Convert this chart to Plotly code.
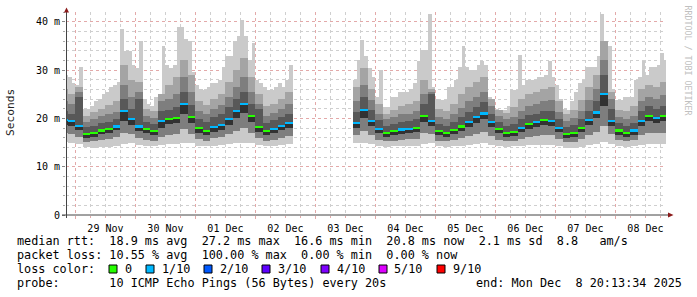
import plotly.graph_objects as go
from datetime import datetime, timedelta

# ---------------- data ----------------
START = "2025-11-28 18:00"
STEP_HOURS = 3          # smoke layers / median
FINE_STEP_HOURS = 1.5   # outer envelope (max ping)
GAP = [None] * 8        # no data 02 Dec 15:00 .. 03 Dec 15:00
GAP_FINE = [None] * 16

median = [19.7, 19.5, 18.5, 16.8, 17.0, 17.5, 17.8, 18.3, 21.5, 19.8,
          18.3, 17.8, 17.3, 19.5, 19.8, 20.0, 23.0, 20.3, 18.0, 17.4,
          18.2, 18.6, 19.8, 21.5, 23.0, 20.5, 18.2, 17.3, 17.8, 18.5, 19.0] + GAP + \
         [19.0, 21.8, 19.5, 17.8, 17.0, 17.3, 17.7, 17.8, 18.0, 20.5,
          19.5, 17.3, 17.0, 17.6, 18.3, 19.3, 20.2, 21.0, 19.3, 17.8,
          17.0, 17.2, 18.0, 18.8, 19.2, 19.6, 19.5, 18.0, 16.8, 17.0,
          18.0, 19.6, 21.2, 25.0, 19.5, 17.5, 17.0, 17.5, 19.5, 20.5, 20.0, 20.5]

rtt_min = [15.2, 15.0, 14.6, 14.0, 13.9, 14.0, 14.1, 14.2, 14.6, 14.8,
           14.5, 14.3, 14.2, 14.4, 14.6, 14.7, 15.0, 14.8, 14.3, 14.2,
           14.3, 14.4, 14.6, 14.8, 15.0, 14.8, 14.4, 14.2, 14.3, 14.4, 14.6] + GAP + \
          [14.9, 15.0, 14.6, 14.3, 14.1, 14.2, 14.2, 14.3, 14.3, 14.6,
           14.8, 14.2, 14.1, 14.2, 14.3, 14.5, 14.6, 14.8, 14.5, 14.2,
           14.1, 14.2, 14.3, 14.4, 14.5, 14.5, 14.5, 14.2, 13.9, 13.9,
           14.1, 14.4, 14.7, 15.2, 14.7, 14.2, 14.1, 14.2, 14.5, 14.6, 14.6, 14.6]

rtt_low_mid = [17.0, 16.8, 16.2, 15.2, 15.3, 15.6, 15.8, 16.2, 17.0, 16.8,
               16.0, 15.6, 15.4, 16.2, 16.6, 16.8, 17.8, 16.8, 15.8, 15.4,
               15.9, 16.2, 16.8, 17.4, 18.0, 17.0, 15.9, 15.4, 15.6, 16.0, 16.4] + GAP + \
              [16.6, 17.3, 16.6, 15.6, 15.3, 15.4, 15.6, 15.7, 15.8, 17.0,
               16.8, 15.4, 15.3, 15.6, 15.9, 16.4, 16.8, 17.2, 16.4, 15.6,
               15.3, 15.4, 15.8, 16.2, 16.4, 16.6, 16.6, 15.8, 15.1, 15.2,
               15.7, 16.5, 17.2, 18.5, 16.8, 15.5, 15.3, 15.5, 16.6, 17.0, 16.9, 17.0]

rtt_low_in = [18.6, 18.5, 17.6, 16.0, 16.2, 16.7, 17.0, 17.5, 19.5, 18.7,
              17.3, 16.9, 16.5, 18.0, 18.8, 19.0, 21.0, 19.0, 17.0, 16.5,
              17.2, 17.6, 18.7, 20.0, 21.2, 19.3, 17.2, 16.5, 16.9, 17.5, 18.0] + GAP + \
             [18.1, 20.0, 18.4, 16.9, 16.2, 16.5, 16.8, 16.9, 17.1, 19.3,
              18.4, 16.5, 16.2, 16.7, 17.3, 18.2, 19.0, 19.8, 18.2, 16.9,
              16.2, 16.4, 17.1, 17.8, 18.2, 18.6, 18.5, 17.1, 16.0, 16.2,
              17.1, 18.6, 20.0, 22.5, 18.5, 16.6, 16.2, 16.6, 18.5, 19.4, 19.0, 19.4]

rtt_high_in = [21.5, 21.0, 24.5, 18.2, 18.5, 19.0, 19.3, 19.8, 24.0, 22.0,
               24.0, 19.3, 18.8, 21.5, 21.8, 22.3, 25.5, 22.8, 19.8, 19.2,
               20.2, 20.8, 22.3, 24.0, 25.5, 23.0, 22.0, 19.0, 19.6, 20.3, 21.0] + GAP + \
              [21.3, 24.5, 21.8, 19.6, 18.5, 18.8, 19.3, 19.4, 19.8, 23.0,
               25.0, 18.8, 18.5, 19.2, 20.2, 21.3, 22.3, 23.3, 21.0, 19.3,
               18.5, 18.8, 19.8, 20.6, 21.0, 21.5, 21.5, 19.8, 18.3, 18.6,
               19.8, 21.6, 23.5, 29.0, 22.0, 19.0, 18.5, 19.0, 21.5, 22.5, 22.0, 22.5]

rtt_high_mid = [23.5, 23.0, 25.5, 19.3, 19.8, 20.5, 20.8, 21.3, 27.0, 24.5,
                25.5, 20.5, 20.0, 23.5, 24.0, 25.0, 28.5, 25.5, 21.5, 20.8,
                22.0, 22.8, 24.5, 26.5, 28.5, 25.5, 23.0, 20.5, 21.2, 22.0, 23.0] + GAP + \
               [23.5, 27.0, 23.8, 21.0, 19.8, 20.2, 20.8, 21.0, 21.5, 25.0,
                25.5, 20.2, 19.8, 20.8, 22.2, 23.5, 24.5, 25.5, 22.5, 20.5,
                19.8, 20.3, 21.5, 22.5, 23.0, 23.5, 23.8, 21.3, 19.5, 20.0,
                21.5, 23.8, 26.0, 32.0, 24.0, 20.3, 19.8, 20.5, 23.5, 24.5, 24.0, 24.8]

rtt_high_out = [26.0, 25.0, 26.5, 20.5, 21.3, 22.0, 22.8, 23.5, 31.0, 28.0,
                27.5, 22.0, 21.5, 25.0, 27.0, 28.5, 32.0, 29.0, 23.5, 22.8,
                24.0, 25.0, 27.5, 30.0, 32.5, 28.5, 25.0, 22.5, 23.0, 24.0, 25.5] + GAP + \
               [26.5, 30.5, 26.0, 23.0, 21.0, 21.8, 22.5, 23.0, 23.5, 28.0,
                26.0, 22.0, 21.5, 23.0, 25.0, 26.5, 27.5, 28.5, 24.0, 21.8,
                21.2, 22.3, 24.0, 25.0, 25.5, 26.0, 26.5, 23.5, 20.8, 21.8,
                23.8, 26.5, 29.0, 36.0, 25.5, 21.8, 21.5, 22.5, 26.0, 27.0, 26.5, 27.5]

# outer envelope at 1.5 h resolution
rtt_max = [29.0, 29.0, 28.5, 27.3, 27.0, 30.7, 22.0, 22.0, 22.5, 23.5,
           24.0, 25.0, 25.5, 26.5, 27.0, 27.5, 38.5, 34.0, 34.0, 31.0,
           30.5, 36.0, 24.0, 23.0, 22.5, 24.5, 25.0, 35.0, 31.0, 30.5,
           31.0, 39.0, 39.0, 36.5, 36.0, 29.6, 27.0, 26.0, 25.9, 26.5,
           27.3, 27.3, 28.0, 30.7, 32.8, 32.8, 36.0, 37.0, 40.4, 37.0,
           32.0, 35.6, 28.0, 27.3, 26.5, 25.9, 25.9, 26.5, 27.3, 26.5,
           28.0, 31.0] + GAP_FINE + \
          [28.0, 32.0, 36.3, 32.8, 30.5, 28.6, 24.5, 30.0, 22.4, 22.4,
           24.5, 24.5, 25.5, 25.5, 25.5, 26.0, 27.3, 31.8, 34.2, 34.2,
           41.5, 26.5, 24.0, 23.8, 23.8, 26.5, 26.5, 28.0, 30.7, 34.9,
           30.7, 30.0, 30.0, 31.0, 31.8, 31.0, 24.5, 23.8, 22.0, 21.8,
           21.8, 22.5, 25.9, 25.9, 33.2, 27.0, 28.0, 28.0, 28.0, 28.6,
           28.6, 29.0, 31.8, 28.6, 27.0, 24.0, 22.0, 21.8, 23.5, 25.5,
           27.3, 28.0, 30.6, 30.7, 30.7, 33.0, 41.5, 35.0, 35.0, 26.0,
           23.8, 23.8, 24.5, 24.5, 24.5, 28.0, 28.6, 31.8, 29.0, 30.7,
           30.7, 31.0, 33.5, 32.0]

loss = [1, 1, 1, 0, 0, 0, 0, 1, 1, 1,
        1, 0, 0, 1, 0, 0, 1, 0, 0, 0,
        1, 1, 1, 1, 1, 0, 0, 0, 1, 1, 1] + GAP + \
       [1, 1, 1, 1, 0, 0, 1, 1, 0, 0,
        1, 0, 0, 0, 0, 1, 1, 1, 1, 0,
        0, 0, 1, 0, 1, 0, 1, 1, 0, 0,
        0, 1, 1, 1, 1, 0, 0, 1, 1, 0, 1, 0]

day_ticks = ["2025-11-29 12:00", "2025-11-30 12:00", "2025-12-01 12:00", "2025-12-02 12:00",
             "2025-12-03 12:00", "2025-12-04 12:00", "2025-12-05 12:00", "2025-12-06 12:00",
             "2025-12-07 12:00", "2025-12-08 12:00"]
day_labels = ["29 Nov", "30 Nov", "01 Dec", "02 Dec", "03 Dec",
              "04 Dec", "05 Dec", "06 Dec", "07 Dec", "08 Dec"]
y_ticks = [0, 10, 20, 30, 40]
y_labels = ["0", "10 m", "20 m", "30 m", "40 m"]

loss_labels = ["0", "1/10", "2/10", "3/10", "4/10", "5/10", "9/10"]
loss_colors = ["#26ff00", "#00b8ff", "#0059ff", "#5e00ff", "#7e00ff", "#dd00ff", "#ff0000"]

line_rtt = "median rtt:  18.9 ms avg  27.2 ms max  16.6 ms min  20.8 ms now  2.1 ms sd  8.8   am/s"
line_loss = "packet loss: 10.55 % avg  100.00 % max  0.00 % min  0.00 % now"
line_color = "loss color:"
line_probe = "probe:       10 ICMP Echo Pings (56 Bytes) every 20s"
line_end = "end: Mon Dec  8 20:13:34 2025"
watermark = "RRDTOOL / TOBI OETIKER"
y_title = "Seconds"

X_RANGE = ["2025-11-28 20:13:34", "2025-12-08 20:13:34"]
Y_RANGE = [0, 42]

# ---------------- figure ----------------
W, H = 697, 297
PL, PR, PT, PB = 66, 31, 12, 82
PW, PH = W - PL - PR, H - PT - PB
MONO = "DejaVu Sans Mono"


def px(x):
    return (x - PL) / PW


def py(y):
    return (H - PB - y) / PH


t0 = datetime.strptime(START, "%Y-%m-%d %H:%M")
times = [t0 + timedelta(hours=STEP_HOURS * i) for i in range(len(median))]
times_fine = [t0 + timedelta(hours=FINE_STEP_HOURS * i) for i in range(len(rtt_max))]
STEP_MS = STEP_HOURS * 3600 * 1000
FINE_MS = FINE_STEP_HOURS * 3600 * 1000
RATIO = int(STEP_HOURS / FINE_STEP_HOURS)

fig = go.Figure()


def band(x, lo, hi, color, width):
    base = [l if (l is not None and h is not None) else None for l, h in zip(lo, hi)]
    ht = [(h - l) if (l is not None and h is not None) else None for l, h in zip(lo, hi)]
    fig.add_trace(go.Bar(x=x, y=ht, base=base, width=width, offset=0,
                         marker=dict(color=color, line=dict(width=0)),
                         hoverinfo="skip", showlegend=False))


# lightest smoke: min .. max (bottom part on the coarse grid, top envelope on the fine grid)
band(times, rtt_min, rtt_low_mid, "#cacaca", STEP_MS)
band(times_fine, [rtt_low_mid[i // RATIO] for i in range(len(rtt_max))], rtt_max, "#cacaca", FINE_MS)
band(times, rtt_low_mid, rtt_high_out, "#a4a4a4", STEP_MS)
band(times, rtt_low_mid, rtt_high_mid, "#7e7e7e", STEP_MS)
band(times, rtt_low_in, rtt_high_in, "#585858", STEP_MS)
band(times, rtt_low_in, median, "#323232", STEP_MS)

MED_H = 0.45
fig.add_trace(go.Bar(
    x=times,
    y=[MED_H if m is not None else None for m in median],
    base=[m - MED_H / 2 if m is not None else None for m in median],
    width=STEP_MS, offset=0,
    marker=dict(color=[loss_colors[l] if l is not None else "#ffffff" for l in loss],
                line=dict(width=0)),
    hoverinfo="skip", showlegend=False))

grid_gray = "#cfcfcf"
grid_red = "#e3a9a9"

fig.update_layout(
    width=W, height=H,
    margin=dict(l=PL, r=PR, t=PT, b=PB),
    paper_bgcolor="white", plot_bgcolor="white",
    barmode="overlay", bargap=0,
    showlegend=False,
    font=dict(family=MONO, size=10, color="#000000"),
    xaxis=dict(type="date", range=X_RANGE, tickmode="linear",
               tick0="2025-11-29 00:00", dtick=86400000,
               showgrid=True, gridcolor=grid_red, griddash="dot", gridwidth=1,
               showticklabels=False, ticks="outside", ticklen=3, tickcolor=grid_red,
               zeroline=False, showline=False,
               minor=dict(tickmode="linear", tick0="2025-11-29 00:00", dtick=6 * 3600000,
                          showgrid=True, gridcolor=grid_gray, griddash="dot", gridwidth=1,
                          ticks="outside", ticklen=2, tickcolor=grid_red)),
    xaxis2=dict(type="date", range=X_RANGE, overlaying="x", anchor="y", side="bottom",
                tickmode="array", tickvals=day_ticks, ticktext=day_labels,
                showgrid=False, zeroline=False, showline=False,
                ticks="outside", ticklen=4, tickcolor="rgba(0,0,0,0)",
                tickfont=dict(family=MONO, size=10, color="#000000")),
    yaxis=dict(range=Y_RANGE, tickmode="array", tickvals=y_ticks, ticktext=y_labels,
               showgrid=True, gridcolor=grid_red, griddash="dot", gridwidth=1,
               zeroline=False, showline=False,
               ticks="outside", ticklen=3, tickcolor="#888888",
               tickfont=dict(family=MONO, size=10, color="#000000"),
               minor=dict(tickmode="linear", tick0=0, dtick=2, showgrid=True,
                          gridcolor=grid_gray, griddash="dot", gridwidth=1,
                          ticks="outside", ticklen=2, tickcolor="#aaaaaa")),
)

# invisible trace to activate the label axis xaxis2
fig.add_trace(go.Scatter(x=[X_RANGE[0]], y=[None], xaxis="x2", yaxis="y",
                         mode="markers", hoverinfo="skip", showlegend=False))

# axis lines and arrows
axis_col = "#444444"
arrow_col = "#8b1a1a"
shapes = [
    dict(type="line", xref="paper", yref="paper", x0=px(62), x1=px(669), y0=py(215), y1=py(215),
         line=dict(color=axis_col, width=1)),
    dict(type="line", xref="paper", yref="paper", x0=px(66.5), x1=px(66.5), y0=py(218), y1=py(11),
         line=dict(color=axis_col, width=1)),
    dict(type="path", xref="paper", yref="paper",
         path=f"M {px(64)} {py(12.5)} L {px(69)} {py(12.5)} L {px(66.5)} {py(7.5)} Z",
         fillcolor=arrow_col, line=dict(width=0)),
    dict(type="path", xref="paper", yref="paper",
         path=f"M {px(668)} {py(212.5)} L {px(668)} {py(217.5)} L {px(673.5)} {py(215)} Z",
         fillcolor=arrow_col, line=dict(width=0)),
]

# loss colour swatches
sw_x = [109, 146, 204, 262, 321, 379, 437]
txt_x = [123, 160, 218, 276, 335, 392, 451]
ROWS = [241, 255, 269, 283]
for sx, c in zip(sw_x, loss_colors):
    shapes.append(dict(type="rect", xref="paper", yref="paper",
                       x0=px(sx), x1=px(sx + 8), y0=py(ROWS[2] + 4), y1=py(ROWS[2] - 4),
                       fillcolor=c, line=dict(color="#000000", width=1)))
fig.update_layout(shapes=shapes)


def nb(s):
    return s.replace(" ", "\u00a0")


LEG_FONT = dict(family=MONO, size=11.8, color="#000000")
ann = []
for txt, row in [(line_rtt, ROWS[0]), (line_loss, ROWS[1]), (line_color, ROWS[2]), (line_probe, ROWS[3])]:
    ann.append(dict(text=nb(txt), xref="paper", yref="paper", x=px(14.5), y=py(row),
                    xanchor="left", yanchor="middle", showarrow=False, font=LEG_FONT))
ann.append(dict(text=nb(line_end), xref="paper", yref="paper", x=px(684), y=py(ROWS[3]),
                xanchor="right", yanchor="middle", showarrow=False, font=LEG_FONT))
for tx, lab in zip(txt_x, loss_labels):
    ann.append(dict(text=nb(lab), xref="paper", yref="paper", x=px(tx), y=py(ROWS[2]),
                    xanchor="left", yanchor="middle", showarrow=False, font=LEG_FONT))
ann.append(dict(text=y_title, xref="paper", yref="paper", x=px(11), y=py(113),
                xanchor="center", yanchor="middle", textangle=-90, showarrow=False,
                font=dict(family=MONO, size=11.2, color="#222222")))
ann.append(dict(text=nb(watermark), xref="paper", yref="paper", x=px(687.5), y=py(60),
                xanchor="center", yanchor="middle", textangle=90, showarrow=False,
                font=dict(family=MONO, size=8.3, color="#c0c0c0")))
fig.update_layout(annotations=ann)

fig.write_html("out.html")
